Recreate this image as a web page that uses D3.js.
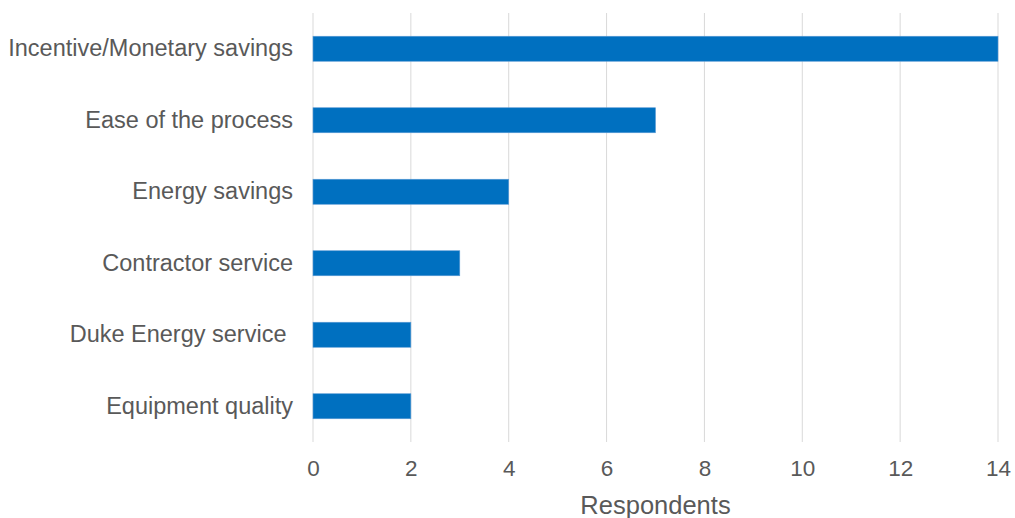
<!DOCTYPE html>
<html>
<head>
<meta charset="utf-8">
<script src="https://cdn.jsdelivr.net/npm/d3@7"></script>
<style>
  html, body { margin: 0; padding: 0; background: #fff; }
  svg text { font-family: "Liberation Sans", Arial, sans-serif; white-space: pre; }
</style>
</head>
<body>
<svg id="chart" width="1015" height="518"></svg>
<script>
const categories = [
  "Incentive/Monetary savings",
  "Ease of the process",
  "Energy savings",
  "Contractor service",
  "Duke Energy service ",
  "Equipment quality"
];
const respondents = [14, 7, 4, 3, 2, 2];
const tickValues = [0, 2, 4, 6, 8, 10, 12, 14];
const axisTitle = "Respondents";

const svg = d3.select("#chart");
const margin = { left: 313, right: 17, top: 13, bottom: 76 };
const W = 1015, H = 518;

const x = d3.scaleLinear().domain([0, 14]).range([margin.left, W - margin.right]);
const y = d3.scaleBand().domain(categories)
  .range([margin.top, H - margin.bottom])
  .paddingInner(0.65).paddingOuter(0.325);

// vertical gridlines
svg.append("g").selectAll("line").data(tickValues).join("line")
  .attr("x1", d => x(d)).attr("x2", d => x(d))
  .attr("y1", margin.top).attr("y2", H - margin.bottom)
  .attr("stroke", "#d9d9d9").attr("stroke-width", 1);

// bars
svg.append("g").selectAll("rect").data(categories).join("rect")
  .attr("x", x(0))
  .attr("y", d => y(d))
  .attr("width", (d, i) => x(respondents[i]) - x(0))
  .attr("height", y.bandwidth())
  .attr("fill", "#0070c0")
  .attr("stroke", "#5b9bd5").attr("stroke-width", 0.6);

// x axis tick labels
const xAxis = d3.axisBottom(x).tickValues(tickValues).tickSize(0).tickPadding(0);
const gx = svg.append("g")
  .attr("transform", `translate(0,${H - margin.bottom + 18})`)
  .call(xAxis);
gx.select(".domain").remove();
gx.selectAll("text")
  .attr("font-size", 22.5).attr("fill", "#595959")
  .attr("font-family", "Liberation Sans, Arial, sans-serif");

// y axis category labels
const yAxis = d3.axisLeft(y).tickSize(0).tickPadding(20);
const gy = svg.append("g")
  .attr("transform", `translate(${margin.left},0)`)
  .call(yAxis);
gy.select(".domain").remove();
gy.selectAll("text")
  .attr("font-size", 23.5).attr("fill", "#595959")
  .attr("dy", "0.31em")
  .attr("font-family", "Liberation Sans, Arial, sans-serif");

// axis title
svg.append("text")
  .attr("x", (x(0) + x(14)) / 2)
  .attr("y", 514)
  .attr("text-anchor", "middle")
  .attr("font-size", 25.5).attr("fill", "#595959")
  .text(axisTitle);
</script>
</body>
</html>
